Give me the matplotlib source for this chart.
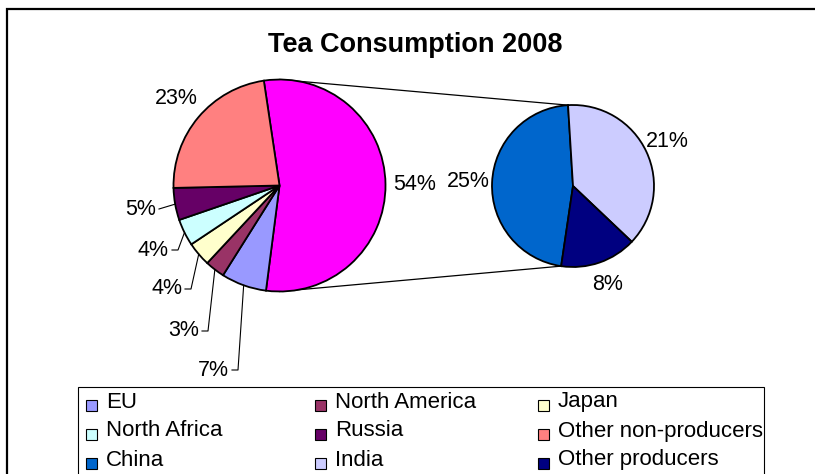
import numpy as np
import matplotlib
matplotlib.use("Agg")
import matplotlib.pyplot as plt
from matplotlib.patches import Rectangle

plt.rcParams["font.family"] = ["Liberation Sans", "DejaVu Sans"]

W, H = 815, 474  # figure size in pixels (dpi 100)

# main pie, clockwise: combined producers slice first, then the consumers
main_names = ["Producers", "EU", "North America", "Japan", "North Africa",
              "Russia", "Other non-producers"]
main_values = [54.4, 6.9, 3.0, 3.7, 4.1, 4.9, 23.0]
main_colors = ["#FF00FF", "#9999FF", "#993366", "#FFFFCC", "#CCFFFF",
               "#660066", "#FF8080"]

# secondary pie: split of the producers slice
sub_names = ["China", "India", "Other producers"]
sub_values = [25.4, 20.7, 8.3]
sub_colors = ["#0066CC", "#CCCCFF", "#000080"]

legend_names = ["EU", "North America", "Japan", "North Africa", "Russia",
                "Other non-producers", "China", "India", "Other producers"]

# layout (pixels, y from top)
MAIN_C, MAIN_R = (279.5, 185.5), 106
SUB_C, SUB_R = (573, 186), 81
# small main slices get leader lines: (right edge of text, text y)
small_label_pos = {"EU": (229, 370), "North America": (199, 331),
                   "Japan": (182, 289), "North Africa": (169, 250),
                   "Russia": (156, 209)}


def Y(py):
    return H - py


def edge(c, r, ang, k=1.0):
    a = np.deg2rad(ang)
    return c[0] + k * r * np.cos(a), Y(c[1]) + k * r * np.sin(a)


fig = plt.figure(figsize=(W / 100, H / 100), dpi=100)
ax = fig.add_axes([0, 0, 1, 1])
wp = dict(edgecolor="black", linewidth=1.3)

mw, _ = ax.pie(main_values, colors=main_colors, startangle=98.5, counterclock=False,
               center=(MAIN_C[0], Y(MAIN_C[1])), radius=MAIN_R, wedgeprops=wp, frame=True)
sw, _ = ax.pie(sub_values, colors=sub_colors, startangle=261.6, counterclock=False,
               center=(SUB_C[0], Y(SUB_C[1])), radius=SUB_R, wedgeprops=wp, frame=True)

fs = 15.5
for w, name, v in zip(mw, main_names, main_values):
    mid = (w.theta1 + w.theta2) / 2
    txt = f"{round(v)}%"
    if name in small_label_pos:
        rx, ty = small_label_pos[name]
        ax.text(rx, Y(ty), txt, ha="right", va="center", fontsize=fs)
        ex, ey = edge(MAIN_C, MAIN_R, mid)
        if name == "Russia":
            ax.plot([rx + 3, ex], [Y(ty), ey], color="black", lw=0.8)
        else:
            ax.plot([rx + 3, rx + 9, ex], [Y(ty), Y(ty), ey], color="black", lw=0.8)
    else:
        x, y = edge(MAIN_C, MAIN_R, mid, 1.27)
        ax.text(x, y, txt, ha="center", va="center", fontsize=fs)

for w, v in zip(sw, sub_values):
    mid = (w.theta1 + w.theta2) / 2
    x, y = edge(SUB_C, SUB_R, mid, 1.29)
    ax.text(x, y, f"{round(v)}%", ha="center", va="center", fontsize=fs)

# connector lines from main pie top/bottom to secondary slice boundaries
sub_top = sw[0].theta1   # China ends near the top
sub_bot = sw[0].theta2   # China starts near the bottom
for ang_main, ang_sub in [(90, sub_top), (-90, sub_bot)]:
    x0, y0 = edge(MAIN_C, MAIN_R, ang_main)
    x1, y1 = edge(SUB_C, SUB_R, ang_sub)
    ax.plot([x0, x1], [y0, y1], color="black", lw=0.9, zorder=0)

ax.set_xlim(0, W)
ax.set_ylim(0, H)
ax.set_axis_off()

ax.text(415, Y(45), "Tea Consumption 2008", ha="center", va="center",
        fontsize=19.5, fontweight="bold")

# outer chart frame (runs off the right/bottom edge)
fig.patches.append(Rectangle((7 / W, -0.1), 1.2, (H - 9) / H + 0.1, transform=fig.transFigure,
                             fill=False, edgecolor="black", linewidth=1.6))

# legend box and entries, laid out row by row
fig.patches.append(Rectangle((78 / W, -0.1), (764 - 78) / W, (H - 387) / H + 0.1,
                             transform=fig.transFigure, fill=False,
                             edgecolor="black", linewidth=0.8))
color_of = dict(zip(main_names + sub_names, main_colors + sub_colors))
col_x = [106, 335, 558]
row_y = [402, 431, 460]
for i, name in enumerate(legend_names):
    tx, ty = col_x[i % 3], row_y[i // 3]
    ax.add_patch(Rectangle((tx - 20, Y(ty + 3) - 5.5), 11, 11, facecolor=color_of[name],
                           edgecolor="black", linewidth=0.8))
    ax.text(tx, Y(ty), name, ha="left", va="center", fontsize=16)

fig.savefig("out.png", dpi=100)
